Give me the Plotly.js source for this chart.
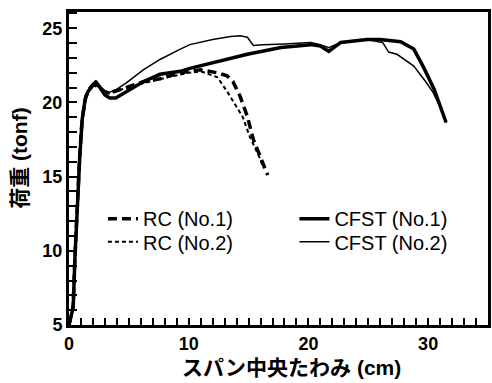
<!DOCTYPE html>
<html>
<head>
<meta charset="utf-8">
<script src="https://cdn.plot.ly/plotly-3.0.1.min.js"></script>
<style>html,body{margin:0;padding:0;background:#fff;}#chart{width:492px;height:383px;}</style>
</head>
<body>
<div id="chart"></div>
<script>
// CFST (No.1) - thick solid
const cfst1X = [0, 0.35, 0.5, 0.67, 0.9, 1.1, 1.35, 1.6, 1.9, 2.2, 2.6, 3.0, 3.4, 3.9, 4.85, 6.2, 7.6, 9.3, 10.1, 12.0, 14.9, 17.7, 20.2, 21.0, 21.7, 22.7, 24.9, 26.0, 27.7, 28.8, 29.6, 30.5, 31.0, 31.5];
const cfst1Y = [5, 6.2, 9.6, 13.0, 16.35, 18.85, 20.2, 20.75, 21.1, 21.35, 21.0, 20.5, 20.3, 20.3, 20.75, 21.4, 21.9, 22.1, 22.3, 22.7, 23.25, 23.7, 23.9, 23.8, 23.45, 24.05, 24.25, 24.25, 24.1, 23.6, 22.4, 20.9, 19.7, 18.65];
// CFST (No.2) - thin solid
const cfst2X = [0, 0.35, 0.5, 0.7, 0.9, 1.1, 1.4, 1.7, 2.0, 2.3, 2.7, 3.0, 3.4, 4.0, 4.85, 6.2, 7.6, 9.3, 10.1, 12.0, 13.5, 14.3, 14.9, 15.4, 16.2, 18.0, 20.2, 21.0, 21.7, 22.7, 24.9, 26.2, 26.7, 27.4, 28.8, 29.8, 30.4, 31.0, 31.5];
const cfst2Y = [5, 6.3, 9.8, 13.3, 16.6, 19.0, 20.5, 21.0, 21.3, 21.45, 21.0, 20.8, 20.7, 20.9, 21.35, 22.2, 22.9, 23.6, 23.9, 24.25, 24.45, 24.5, 24.4, 23.85, 23.9, 23.95, 24.05, 23.9, 23.7, 24.05, 24.25, 24.05, 23.4, 23.25, 22.45, 21.4, 20.7, 19.7, 18.65];
// RC (No.1) - thick dashed
const rc1X = [0, 0.35, 0.5, 0.7, 0.9, 1.1, 1.4, 1.7, 2.0, 2.4, 2.8, 3.3, 4.0, 4.85, 6.2, 7.6, 9.3, 11.0, 12.4, 13.2, 13.7, 14.3, 14.9, 15.4, 16.0, 16.6];
const rc1Y = [5, 6.3, 9.7, 13.2, 16.5, 18.9, 20.4, 20.9, 21.2, 21.1, 20.8, 20.6, 20.8, 21.0, 21.4, 21.6, 22.0, 22.2, 22.0, 21.8, 21.4, 20.4, 19.05, 17.5, 16.35, 15.1];
// RC (No.2) - thin dashed
const rc2X = [0, 0.35, 0.5, 0.7, 0.9, 1.1, 1.4, 1.7, 2.0, 2.4, 2.8, 3.3, 4.0, 4.85, 6.2, 7.4, 8.5, 10.0, 11.0, 12.4, 13.2, 14.0, 14.5, 15.1, 16.0, 16.2];
const rc2Y = [5, 6.3, 9.7, 13.2, 16.5, 18.9, 20.4, 20.9, 21.2, 21.1, 20.8, 20.6, 20.8, 21.0, 21.3, 21.55, 21.75, 22.0, 22.1, 21.7, 20.75, 19.7, 19.05, 17.7, 16.15, 15.6];

const seriesNames = ['RC (No.1)', 'RC (No.2)', 'CFST (No.1)', 'CFST (No.2)'];
const xTickVals = [0,1,2,3,4,5,6,7,8,9,10,11,12,13,14,15,16,17,18,19,20,21,22,23,24,25,26,27,28,29,30,31,32,33,34,35];
const xLabelled = [0, 10, 20, 30];
const yTickVals = [5,6,7,8,9,10,11,12,13,14,15,16,17,18,19,20,21,22,23,24,25,26];
const yLabelled = [5, 10, 15, 20, 25];
const xTitle = 'スパン中央たわみ (cm)';
const yTitle = '荷重 (tonf)';

const FONT = 'Liberation Sans, Arial, Noto Sans CJK JP, sans-serif';

const xTickText = xTickVals.map(v => xLabelled.includes(v) ? String(v) : '');
const yTickText = yTickVals.map(v => yLabelled.includes(v) ? String(v) : '');

const traces = [
  {x: rc1X, y: rc1Y, name: seriesNames[0], mode: 'lines', legend: 'legend',
   line: {color: '#000', width: 3.5, dash: '9px,5px'}},
  {x: rc2X, y: rc2Y, name: seriesNames[1], mode: 'lines', legend: 'legend2',
   line: {color: '#000', width: 2, dash: '4px,3px'}},
  {x: cfst1X, y: cfst1Y, name: seriesNames[2], mode: 'lines', legend: 'legend3',
   line: {color: '#000', width: 3.5}},
  {x: cfst2X, y: cfst2Y, name: seriesNames[3], mode: 'lines', legend: 'legend4',
   line: {color: '#000', width: 1.5}}
];

function leg(x, y) {
  return {
    x: x, y: y, orientation: 'v', xanchor: 'left', yanchor: 'top',
    bgcolor: 'rgba(0,0,0,0)', borderwidth: 0,
    font: {family: FONT, size: 20, color: '#000'}
  };
}

const layout = {
  width: 492, height: 383,
  margin: {l: 69, r: 4, t: 12, b: 58},
  paper_bgcolor: '#fff', plot_bgcolor: '#fff',
  font: {family: FONT, color: '#000'},
  showlegend: true,
  legend: leg(0.081, 0.402),
  legend2: leg(0.081, 0.328),
  legend3: leg(0.538, 0.402),
  legend4: leg(0.538, 0.328),
  xaxis: {
    range: [0, 35], showgrid: false, zeroline: false,
    showline: true, linecolor: '#000', linewidth: 3, mirror: true,
    tickmode: 'array', tickvals: xTickVals, ticktext: xTickText,
    ticks: 'inside', ticklen: 7, tickwidth: 2, tickcolor: '#000',
    tickfont: {family: FONT, size: 18, color: '#000', weight: 'bold'},
    title: {text: ''}
  },
  yaxis: {
    range: [5, 26.1], showgrid: false, zeroline: false,
    showline: true, linecolor: '#000', linewidth: 3, mirror: true,
    tickmode: 'array', tickvals: yTickVals, ticktext: yTickText,
    ticks: 'inside', ticklen: 8, tickwidth: 2, tickcolor: '#000',
    tickfont: {family: FONT, size: 18, color: '#000', weight: 'bold'},
    title: {text: ''}
  },
  annotations: [
    {text: xTitle, xref: 'paper', yref: 'paper', x: 0.532, y: -0.137,
     xanchor: 'center', yanchor: 'middle', showarrow: false,
     font: {family: FONT, size: 21, color: '#000', weight: 'bold'}},
    {text: yTitle, xref: 'paper', yref: 'paper', x: -0.117, y: 0.534,
     xanchor: 'center', yanchor: 'middle', showarrow: false, textangle: -90,
     font: {family: FONT, size: 21, color: '#000', weight: 'bold'}}
  ]
};

Plotly.newPlot('chart', traces, layout, {staticPlot: true, displayModeBar: false});
</script>
</body>
</html>
